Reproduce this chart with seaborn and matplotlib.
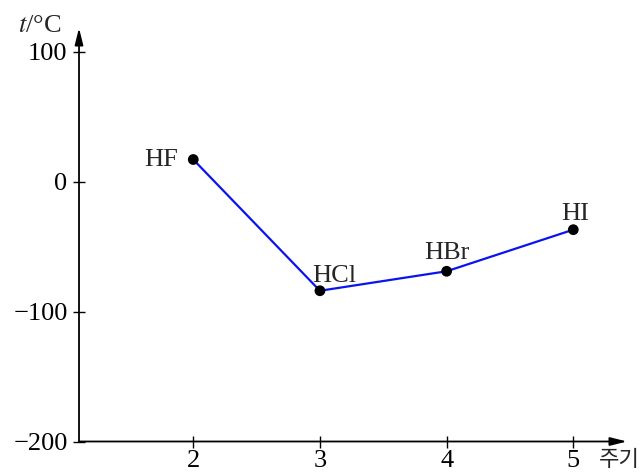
import matplotlib
matplotlib.use("Agg")
import matplotlib.pyplot as plt
import pandas as pd
import seaborn as sns

# boiling points of the hydrogen halides
compounds = ["HF", "HCl", "HBr", "HI"]
periods = [2, 3, 4, 5]
temps = [17, -84, -69, -37]
yticks = [-200, -100, 0, 100]

df = pd.DataFrame({"period": periods, "t": temps, "name": compounds})

sns.set_style("ticks")
plt.rcParams["font.family"] = ["Liberation Serif", "DejaVu Serif"]
plt.rcParams["mathtext.fontset"] = "stix"

fig = plt.figure(figsize=(6.41, 4.72), dpi=100)
ax = fig.add_axes([79 / 641, 30.5 / 472, 548 / 641, 413.5 / 472])

sns.lineplot(data=df, x="period", y="t", color="#0a14f0", linewidth=1.6, ax=ax)
sns.scatterplot(data=df, x="period", y="t", color="black", s=60, zorder=3,
                edgecolor="none", ax=ax)

# labels next to the points (offsets in points)
offsets = {"HF": (-11, 0, "right", "center"),
           "HCl": (10, 6, "center", "baseline"),
           "HBr": (0, 9, "center", "baseline"),
           "HI": (1, 7, "center", "baseline")}
for p, t, n in zip(periods, temps, compounds):
    dx, dy, ha, va = offsets[n]
    ax.annotate(n, (p, t), xytext=(dx, dy), textcoords="offset points",
                ha=ha, va=va, fontsize=19)

ax.set_xlim(1.098, 5.424)
ax.set_ylim(-200, 118.2)
ax.set_xticks(periods)
ax.set_yticks(yticks)
ax.tick_params(direction="inout", length=8.5, width=1, labelsize=19,
               color="black", labelcolor="black")
ax.tick_params(axis="x", pad=2)
ax.tick_params(axis="y", pad=4)
ax.set_xlabel("")
ax.set_ylabel("")

for s in ["top", "right", "left", "bottom"]:
    ax.spines[s].set_visible(False)

arrow = dict(arrowstyle="-|>,head_length=1.0,head_width=0.25", color="black",
             lw=1.3, shrinkA=0, shrinkB=0)
ax.annotate("", xy=(0, 1), xytext=(0, 0), xycoords="axes fraction",
            arrowprops=arrow)
ax.annotate("", xy=(1, 0), xytext=(0, 0), xycoords="axes fraction",
            arrowprops=arrow)

fig.text(18 / 641, 1 - 32 / 472, r"$t$/°C", fontsize=19, ha="left",
         va="baseline")
fig.text(599 / 641, 1 - 460 / 472, "주기", fontsize=16, ha="left",
         va="center", family=["Noto Sans CJK KR", "DejaVu Sans"])

fig.savefig("out.png", dpi=100)
